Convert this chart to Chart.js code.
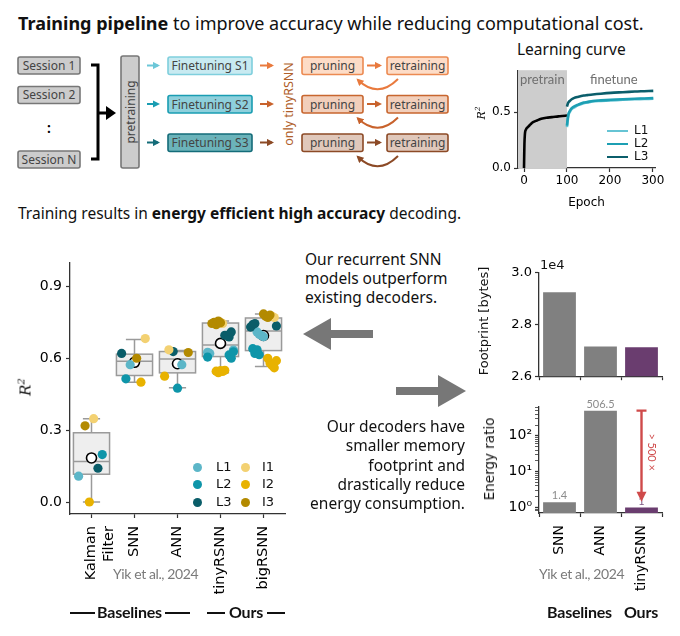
<!DOCTYPE html>
<html>
<head>
<meta charset='utf-8' />
<title>tinyRSNN summary</title>
<script src="https://cdn.jsdelivr.net/npm/chart.js"></script>
<style>
body { margin:0; padding:0; background:#fff; }
#wrap { position:relative; width:680px; height:636px; overflow:hidden; font-family:'Noto Sans', Lato, sans-serif; color:#111; }
.abs { position:absolute; }
.box { position:absolute; }
.txt { position:absolute; white-space:nowrap; }
.rot { transform:translate(-50%,-50%) rotate(-90deg); }
.gray { color:#7a7a7a; font-family:Lato; }
.bold { font-family:Lato; font-weight:bold; font-size:16px; letter-spacing:-0.2px; }
.leg { position:absolute; font:13px 'DejaVu Sans'; }
.dot { position:absolute; width:9px; height:9px; border-radius:50%; }
</style>
</head>
<body>
<div id="wrap">
  <div class="txt" style="left:18px;top:11px;font-size:18px;"><b>Training pipeline</b> to improve accuracy while reducing computational cost.</div>
  <svg id="pipe" class="abs" style="left:0;top:0" width="680" height="200"></svg>

  <!-- learning curve -->
  <div class="txt" style="left:517px;top:38px;font-size:15.5px;">Learning curve</div>
  <div class="box" style="left:470px;top:60px;width:210px;height:150px;"><canvas id="lcChart"></canvas></div>
  <div class="txt rot" style="left:481px;top:113px;font:italic 11px 'DejaVu Serif';">R<sup style="font-size:7px">2</sup></div>
  <div class="txt gray" style="left:520px;top:71px;font-size:13px;color:#6f6f6f">pretrain</div>
  <div class="txt gray" style="left:590px;top:71px;font-size:13px;color:#6f6f6f">finetune</div>
  <div id="lcLegend"></div>

  <div class="txt" style="left:18px;top:202px;font-size:15.5px;">Training results in <b>energy efficient high accuracy</b> decoding.</div>

  <!-- box plot -->
  <div class="box" style="left:0;top:250px;width:300px;height:370px;"><canvas id="boxChart"></canvas></div>
  <div class="txt rot" style="left:25px;top:387px;font:italic 15px 'DejaVu Serif';">R<sup style="font-size:10px">2</sup></div>
  <div id="boxLegend"></div>
  <div class="txt gray" style="left:113px;top:565px;font-size:14px;letter-spacing:-0.4px">Yik et al., 2024</div>
  <div class="abs" style="left:70px;top:612px;width:25px;height:1.5px;background:#111"></div>
  <div class="txt bold" style="left:97px;top:602px;">Baselines</div>
  <div class="abs" style="left:165px;top:612px;width:25px;height:1.5px;background:#111"></div>
  <div class="abs" style="left:207px;top:612px;width:18px;height:1.5px;background:#111"></div>
  <div class="txt bold" style="left:229px;top:602px;">Ours</div>
  <div class="abs" style="left:267px;top:612px;width:18px;height:1.5px;background:#111"></div>

  <!-- middle text and arrows -->
  <div class="txt" style="left:305px;top:250px;font-size:15.5px;line-height:19px;">Our recurrent SNN<br>models outperform<br>existing decoders.</div>
  <div class="txt" style="right:215px;top:417px;font-size:15.5px;line-height:19.3px;text-align:right;">Our decoders have<br>smaller memory<br>footprint and<br>drastically reduce<br>energy consumption.</div>
  <svg class="abs" style="left:295px;top:310px" width="180" height="110">
    <polygon points="8,24 36,8 36,20 78,20 78,28 36,28 36,40" fill="#777"/>
    <polygon points="171,81 143,65 143,77 101,77 101,85 143,85 143,97" fill="#777"/>
  </svg>

  <!-- footprint and energy -->
  <div class="box" style="left:460px;top:262px;width:220px;height:125px;"><canvas id="fpChart"></canvas></div>
  <div class="txt" style="left:540px;top:257px;font:13px 'DejaVu Sans';">1e4</div>
  <div class="txt rot" style="left:483px;top:321px;font:13px 'DejaVu Sans';">Footprint [bytes]</div>
  <div class="box" style="left:460px;top:395px;width:220px;height:215px;"><canvas id="enChart"></canvas></div>
  <div class="txt rot" style="left:489px;top:459px;font:13.5px 'DejaVu Sans';">Energy ratio</div>
  <div class="txt gray" style="left:539px;top:565px;font-size:14px;letter-spacing:-0.4px">Yik et al., 2024</div>
  <div class="txt bold" style="left:547px;top:602px;">Baselines</div>
  <div class="txt bold" style="left:624px;top:602px;">Ours</div>
</div>

<script>

/*************************************************/
/* data                                          */
/*************************************************/

// learning curve
const pretrainEpochs = [0, 1, 2, 3, 4, 6, 10, 15, 21, 30, 40, 52, 65, 80, 96, 100];
const pretrainR2     = [0, 0.22, 0.30, 0.33, 0.34, 0.355, 0.37, 0.39, 0.41, 0.425, 0.44, 0.45, 0.455, 0.462, 0.468, 0.47];
const finetuneEpochs = [100, 102, 104, 108, 111, 116, 125, 139, 147, 160, 179, 202, 230, 258, 280, 301];
const fineL1 = [0.365, 0.43, 0.48, 0.51, 0.53, 0.54, 0.56, 0.58, 0.585, 0.595, 0.60, 0.605, 0.61, 0.615, 0.617, 0.62];
const fineL2 = [0.38, 0.45, 0.49, 0.52, 0.535, 0.55, 0.565, 0.585, 0.59, 0.60, 0.605, 0.61, 0.615, 0.62, 0.622, 0.625];
const fineL3 = [0.55, 0.575, 0.59, 0.605, 0.615, 0.625, 0.635, 0.648, 0.652, 0.658, 0.665, 0.672, 0.678, 0.684, 0.687, 0.69];

// accuracy per model
const models = [['Kalman', 'Filter'], 'SNN', 'ANN', 'tinyRSNN', 'bigRSNN'];
const groups = ['L1', 'L2', 'L3', 'I1', 'I2', 'I3'];
const r2L1 = [[0.108], [0.573], [0.573], [0.634, 0.625, 0.62], [0.71, 0.70, 0.695, 0.69]];
const r2L2 = [[0.198], [0.514], [0.475], [0.614, 0.60, 0.627, 0.605], [0.64, 0.62, 0.635, 0.615]];
const r2L3 = [[0.141], [0.62], [0.628], [0.696, 0.696, 0.689, 0.71], [0.735, 0.73, 0.74, 0.745]];
const r2I1 = [[0.348], [0.682], [0.635], [0.75, 0.745], [0.775, 0.77]];
const r2I2 = [[0.0], [0.50], [0.525], [0.546, 0.54, 0.548, 0.545, 0.55], [0.60, 0.58, 0.57, 0.56, 0.59]];
const r2I3 = [[0.318], [0.60], [0.624], [0.745, 0.75, 0.74, 0.755, 0.748], [0.785, 0.775, 0.77, 0.78]];
const boxQ1   = [0.116, 0.528, 0.539, 0.607, 0.632];
const boxMed  = [0.169, 0.587, 0.597, 0.655, 0.714];
const boxQ3   = [0.289, 0.617, 0.628, 0.747, 0.768];
const boxLo   = [0.0, 0.50, 0.477, 0.539, 0.566];
const boxHi   = [0.348, 0.678, 0.632, 0.755, 0.785];
const boxMean = [0.184, 0.583, 0.577, 0.662, 0.695];
const r2Ticks = [0, 0.3, 0.6, 0.9];

// footprint / energy
const hwModels = ['SNN', 'ANN', 'tinyRSNN'];
const footprint = [29250, 27150, 27120];
const fpTicks = [26000, 28000, 30000];
const energyRatio = [1.4, 506.5, 1];
const energyLabels = ['1.4', '506.5', '1'];
const energyTicks = [0.8, 0.9, 1, 2, 3, 4, 5, 6, 7, 8, 9, 10, 20, 30, 40, 50, 60, 70, 80, 90, 100, 200, 300, 400, 500, 600];

/*************************************************/
/* styles                                        */
/*************************************************/

const groupColors = ['#5cb6c8', '#0e95a9', '#0a5d69', '#f3d172', '#e8b200', '#b38a00'];
const lcColors = ['#66c4d4', '#1c9fb3', '#0b5e6b'];
const barGray = '#808080';
const purple = '#6a3d6f';

Chart.defaults.font.family = "'DejaVu Sans'";
Chart.defaults.color = '#000';

const axisGrid = { drawOnChartArea: false, tickLength: 4, color: '#333', tickWidth: 1.2 };
const axisBorder = { color: '#333', width: 1.3 };

/*************************************************/
/* pipeline diagram                              */
/*************************************************/

const svg = document.getElementById('pipe');
let s = '<defs>';
const markCol = ['#000', '#6cc7d8', '#1a9db2', '#146c79', '#e97a3e', '#c8622c', '#8c4a26'];
markCol.forEach((c, i) => {
  s += `<marker id="mk${i}" viewBox="0 0 10 10" refX="7" refY="5" markerWidth="3.6" markerHeight="3.6" orient="auto"><path d="M0,0 L10,5 L0,10 z" fill="${c}"/></marker>`;
});
s += '</defs>';
const rect = (x, y, w, h, fill, stroke, label) => {
  s += `<rect x="${x}" y="${y}" width="${w}" height="${h}" rx="2" fill="${fill}" stroke="${stroke}" stroke-width="1.6"/>`;
  if (label) s += `<text x="${x + w / 2}" y="${y + h / 2 + 4.3}" text-anchor="middle" font-family="Noto Sans" font-size="12" fill="#444">${label}</text>`;
};
const arrow = (x1, y1, x2, y2, mk, col) => {
  s += `<line x1="${x1}" y1="${y1}" x2="${x2}" y2="${y2}" stroke="${col}" stroke-width="2" marker-end="url(#mk${mk})"/>`;
};
['Session 1', 'Session 2', 'Session N'].forEach((t, i) => rect(18, [57, 86.5, 151][i], 62, 17, '#cccccc', '#777', t));
s += '<text x="49" y="133" text-anchor="middle" font-family="Lato" font-weight="bold" font-size="15">:</text>';
s += '<path d="M91 65 H98 V159 H91" fill="none" stroke="#000" stroke-width="3"/>';
s += '<line x1="98" y1="113" x2="107" y2="113" stroke="#000" stroke-width="3"/><polygon points="106,106 116,113 106,120" fill="#000"/>';
rect(121, 56, 18, 112, '#cccccc', '#777');
s += '<text transform="translate(134.5,112) rotate(-90)" text-anchor="middle" font-family="Noto Sans" font-size="12" fill="#444">pretraining</text>';
const rowY = [57, 95.5, 134];
const ftFill = ['#c8eaf1', '#8ed0dc', '#6bb3ba'];
const ftStroke = ['#7fcfdd', '#1a9db2', '#146c79'];
const prFill = ['#fddcc7', '#f2cfbb', '#e0c8bb'];
const prStroke = ['#ec8a52', '#c8662f', '#8c4a26'];
rowY.forEach((y, i) => {
  const yc = y + 8.5;
  arrow(147, yc, 158, yc, 1 + i, markCol[1 + i]);
  rect(168, y, 84, 17.5, ftFill[i], ftStroke[i], 'Finetuning S' + (i + 1));
  arrow(260, yc, 272, yc, 4 + i, markCol[4 + i]);
  rect(302, y, 61, 17.5, prFill[i], prStroke[i], 'pruning');
  arrow(367, yc, 380, yc, 4 + i, markCol[4 + i]);
  rect(387, y, 61, 17.5, prFill[i], prStroke[i], 'retraining');
  const yb = y + 22;
  s += `<path d="M398 ${yb} Q378 ${yb + 20} 358 ${yb + 1}" fill="none" stroke="${markCol[4 + i]}" stroke-width="2" marker-end="url(#mk${4 + i})"/>`;
});
s += '<text transform="translate(292.5,104) rotate(-90)" text-anchor="middle" font-family="Noto Sans" font-size="12.5" fill="#b0602a">only tinyRSNN</text>';
svg.innerHTML = s;

/*************************************************/
/* learning curve                                */
/*************************************************/

const shadePlugin = {
  id: 'shade',
  beforeDatasetsDraw(chart) {
    const { ctx, chartArea, scales: { x } } = chart;
    ctx.save();
    ctx.fillStyle = '#cdcdcd';
    ctx.fillRect(chartArea.left, chartArea.top, x.getPixelForValue(100) - chartArea.left, chartArea.bottom - chartArea.top);
    ctx.restore();
  }
};

const toXY = (xs, ys) => xs.map((v, i) => ({ x: v, y: ys[i] }));

new Chart(document.getElementById('lcChart'), {
  type: 'scatter',
  data: {
    datasets: [
      { data: toXY(finetuneEpochs, fineL3), borderColor: lcColors[2] },
      { data: toXY(finetuneEpochs, fineL2), borderColor: lcColors[1] },
      { data: toXY(finetuneEpochs, fineL1), borderColor: lcColors[0] },
      { data: toXY(pretrainEpochs, pretrainR2), borderColor: '#000' }
    ].map(d => Object.assign(d, { showLine: true, pointRadius: 0, borderWidth: 2.6, tension: 0.3 }))
  },
  options: {
    animation: false, responsive: true, maintainAspectRatio: false,
    layout: { padding: { top: 10, right: 25, left: 0, bottom: 0 } },
    plugins: { legend: { display: false }, tooltip: { enabled: false } },
    scales: {
      x: {
        type: 'linear', min: -14, max: 305,
        afterBuildTicks: sc => { sc.ticks = [0, 100, 200, 300].map(v => ({ value: v })); },
        ticks: { font: { size: 12 }, padding: 2, maxRotation: 0 },
        title: { display: true, text: 'Epoch', font: { size: 12 }, padding: { top: 0, bottom: 0 } },
        grid: axisGrid, border: axisBorder,
        afterFit: sc => { sc.height = 42; }
      },
      y: {
        min: 0, max: 0.875,
        afterBuildTicks: sc => { sc.ticks = [0, 0.5].map(v => ({ value: v })); },
        ticks: { font: { size: 12 }, padding: 3, callback: v => v.toFixed(1) },
        grid: axisGrid, border: axisBorder,
        afterFit: sc => { sc.width = 48; }
      }
    }
  },
  plugins: [shadePlugin]
});

let lg = '';
['L1', 'L2', 'L3'].forEach((g, i) => {
  const y = [131, 144, 157][i];
  lg += `<div class="abs" style="left:607px;top:${y - 1.3}px;width:21px;height:2.6px;background:${lcColors[i]}"></div>`;
  lg += `<div class="leg" style="left:634px;top:${y - 8}px;font-size:12px">${g}</div>`;
});
document.getElementById('lcLegend').innerHTML = lg;

/*************************************************/
/* box plot                                      */
/*************************************************/

const jitter = (g, k, m) => ((((g * 37 + k * 53 + m * 17) % 13) / 12) - 0.5) * 0.6;

const groupData = [r2L1, r2L2, r2L3, r2I1, r2I2, r2I3];
const pointSets = groupData.map((arr, g) => {
  const pts = [];
  arr.forEach((vals, m) => vals.forEach((v, k) => pts.push({ x: m + jitter(g, k, m), y: v })));
  return {
    data: pts, backgroundColor: groupColors[g], borderWidth: 0, pointRadius: 4.6, order: 1
  };
});
pointSets.reverse();

// mean markers sit under the points
const meanSet = {
  data: boxMean.map((v, i) => ({ x: i, y: v })),
  backgroundColor: '#fff', borderColor: '#000', borderWidth: 1.6, pointRadius: 5, order: 3
};

const boxPlugin = {
  id: 'boxes',
  beforeDatasetsDraw(chart) {
    const { ctx, scales: { x, y } } = chart;
    ctx.save();
    ctx.strokeStyle = '#9a9a9a';
    ctx.lineWidth = 1.5;
    models.forEach((m, i) => {
      const xl = x.getPixelForValue(i - 0.42), xr = x.getPixelForValue(i + 0.42);
      const xc = x.getPixelForValue(i);
      const cl = x.getPixelForValue(i - 0.2), cr = x.getPixelForValue(i + 0.2);
      const yq1 = y.getPixelForValue(boxQ1[i]), yq3 = y.getPixelForValue(boxQ3[i]);
      const ylo = y.getPixelForValue(boxLo[i]), yhi = y.getPixelForValue(boxHi[i]);
      const ymd = y.getPixelForValue(boxMed[i]);
      ctx.beginPath();
      ctx.moveTo(xc, yq1); ctx.lineTo(xc, ylo);
      ctx.moveTo(cl, ylo); ctx.lineTo(cr, ylo);
      ctx.moveTo(xc, yq3); ctx.lineTo(xc, yhi);
      ctx.moveTo(cl, yhi); ctx.lineTo(cr, yhi);
      ctx.stroke();
      ctx.fillStyle = '#eeeeee';
      ctx.fillRect(xl, yq3, xr - xl, yq1 - yq3);
      ctx.strokeRect(xl, yq3, xr - xl, yq1 - yq3);
      ctx.beginPath();
      ctx.moveTo(xl, ymd); ctx.lineTo(xr, ymd);
      ctx.stroke();
    });
    ctx.restore();
  }
};

new Chart(document.getElementById('boxChart'), {
  type: 'scatter',
  data: { datasets: [meanSet, ...pointSets] },
  options: {
    animation: false, responsive: true, maintainAspectRatio: false,
    layout: { padding: { top: 7, right: 15, left: 0, bottom: 0 } },
    plugins: { legend: { display: false }, tooltip: { enabled: false } },
    scales: {
      x: {
        type: 'linear', min: -0.5, max: 4.5,
        afterBuildTicks: sc => { sc.ticks = models.map((m, i) => ({ value: i })); },
        ticks: { autoSkip: false, minRotation: 90, maxRotation: 90, padding: 8, font: { size: 14.5 }, callback: v => models[v] },
        grid: axisGrid, border: axisBorder,
        afterFit: sc => { sc.height = 106; }
      },
      y: {
        min: -0.05, max: 1.0,
        afterBuildTicks: sc => { sc.ticks = r2Ticks.map(v => ({ value: v })); },
        ticks: { font: { size: 14 }, padding: 4, callback: v => v.toFixed(1) },
        grid: axisGrid, border: axisBorder,
        afterFit: sc => { sc.width = 70; }
      }
    }
  },
  plugins: [boxPlugin]
});

let bl = '';
groups.forEach((g, i) => {
  const col = Math.floor(i / 3), row = i % 3;
  const y = [467, 484, 502][row];
  const dx = col === 0 ? 197 : 245;
  bl += `<div class="dot" style="left:${dx - 4.5}px;top:${y - 4.5}px;background:${groupColors[i]}"></div>`;
  bl += `<div class="leg" style="left:${col === 0 ? 216 : 262}px;top:${y - 8.5}px">${g}</div>`;
});
document.getElementById('boxLegend').innerHTML = bl;

/*************************************************/
/* footprint                                     */
/*************************************************/

const hwColors = [barGray, barGray, purple];

new Chart(document.getElementById('fpChart'), {
  type: 'bar',
  data: { labels: hwModels, datasets: [{ data: footprint, backgroundColor: hwColors, barPercentage: 0.8, categoryPercentage: 1 }] },
  options: {
    animation: false, responsive: true, maintainAspectRatio: false,
    layout: { padding: { top: 10.7, right: 18, left: 0, bottom: 0 } },
    plugins: { legend: { display: false }, tooltip: { enabled: false } },
    scales: {
      x: {
        ticks: { display: false },
        grid: axisGrid, border: axisBorder,
        afterFit: sc => { sc.height = 8; }
      },
      y: {
        min: 26000, max: 30000,
        afterBuildTicks: sc => { sc.ticks = fpTicks.map(v => ({ value: v })); },
        ticks: { font: { size: 13 }, padding: 3, callback: v => (v / 1e4).toFixed(1) },
        grid: axisGrid, border: axisBorder,
        afterFit: sc => { sc.width = 79; }
      }
    }
  }
});

/*************************************************/
/* energy                                        */
/*************************************************/

const energyPlugin = {
  id: 'energyMarks',
  afterDatasetsDraw(chart) {
    const { ctx, scales: { y } } = chart;
    const bars = chart.getDatasetMeta(0).data;
    ctx.save();
    ctx.font = "11px Lato";
    ctx.textAlign = 'center';
    ctx.textBaseline = 'bottom';
    bars.forEach((b, i) => {
      ctx.fillStyle = i === 2 ? '#7e5a84' : '#8c8c8c';
      ctx.fillText(energyLabels[i], b.x, b.y - 1);
    });
    // ratio arrow
    const xa = bars[2].x;
    const yTop = y.getPixelForValue(energyRatio[1]);
    const yEnd = y.getPixelForValue(1.45);
    ctx.strokeStyle = '#cf4a4a';
    ctx.fillStyle = '#cf4a4a';
    ctx.lineWidth = 2.4;
    ctx.beginPath();
    ctx.moveTo(xa, yTop); ctx.lineTo(xa, yEnd - 8);
    ctx.moveTo(xa - 5, yTop); ctx.lineTo(xa + 5, yTop);
    ctx.stroke();
    ctx.beginPath();
    ctx.moveTo(xa - 5, yEnd - 10); ctx.lineTo(xa + 5, yEnd - 10); ctx.lineTo(xa, yEnd);
    ctx.closePath(); ctx.fill();
    ctx.translate(xa + 10, (yTop + yEnd) / 2 - 4);
    ctx.rotate(Math.PI / 2);
    ctx.textBaseline = 'middle';
    ctx.font = "11px Lato";
    ctx.fillText('> 500 ×', 0, 0);
    ctx.restore();
  }
};

const sup = { 0: '⁰', 1: '¹', 2: '²' };

new Chart(document.getElementById('enChart'), {
  type: 'bar',
  data: { labels: hwModels, datasets: [{ data: energyRatio, backgroundColor: hwColors, barPercentage: 0.8, categoryPercentage: 1 }] },
  options: {
    animation: false, responsive: true, maintainAspectRatio: false,
    layout: { padding: { top: 10, right: 18, left: 0, bottom: 0 } },
    plugins: { legend: { display: false }, tooltip: { enabled: false } },
    scales: {
      x: {
        ticks: { autoSkip: false, minRotation: 90, maxRotation: 90, padding: 8, font: { size: 14 } },
        grid: axisGrid, border: axisBorder,
        afterFit: sc => { sc.height = 97; }
      },
      y: {
        type: 'logarithmic', min: 0.73, max: 665,
        afterBuildTicks: sc => { sc.ticks = energyTicks.map(v => ({ value: v })); },
        ticks: {
          autoSkip: false, font: { size: 14 }, padding: 3,
          callback: v => { const l = Math.log10(v); return Math.abs(l - Math.round(l)) < 1e-9 ? '10' + sup[Math.round(l)] : ''; }
        },
        grid: Object.assign({}, axisGrid, {
          tickWidth: c => { const l = Math.log10(c.tick.value); return Math.abs(l - Math.round(l)) < 1e-9 ? 1.3 : 0.8; }
        }),
        border: axisBorder,
        afterFit: sc => { sc.width = 79; }
      }
    }
  },
  plugins: [energyPlugin]
});

</script>
</body>
</html>
